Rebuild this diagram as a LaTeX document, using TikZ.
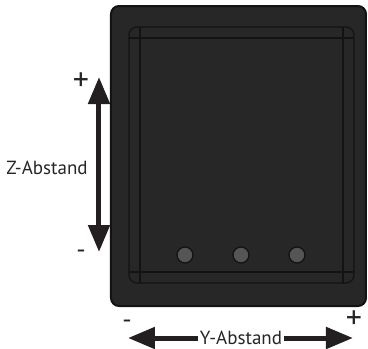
\documentclass[tikz,border=0pt]{standalone}
\usepackage{fontspec}
\setmainfont{PT Sans}
\usetikzlibrary{arrows.meta}
\definecolor{casing}{HTML}{272727}
\definecolor{casingline}{HTML}{131313}
\definecolor{screw}{HTML}{555555}
\definecolor{pointer}{HTML}{231F20}
\tikzstyle{axislabel} = [font=\fontsize{19}{19}\selectfont, text=black!85, inner sep=1.5pt]
\tikzstyle{sign} = [font=\fontsize{32}{32}\selectfont, text=black!85, inner sep=0pt]
\tikzstyle{minussign} = [font=\fontsize{26}{26}\selectfont, text=black!85, inner sep=0pt]
\tikzstyle{pointerline} = [draw=pointer, line width=5pt, -{Triangle[length=27pt,width=21pt]}]
\tikzstyle{screwhole} = [circle, draw=casingline, line width=1.3pt, fill=screw, minimum size=16pt, inner sep=0pt]

\begin{document}
\begin{tikzpicture}[x=1pt, y=-1pt]
	\useasboundingbox (0,0) rectangle (368,349);
	% casing
	\draw[casingline, line width=2pt, fill=casing, rounded corners=8pt] (111,6) rectangle (366,306);
	\draw[casingline, line width=1.2pt, rounded corners=8pt] (129,27) rectangle (354,283);
	\draw[casingline, line width=1.2pt] (129,38) -- (354,38);
	\draw[casingline, line width=1.2pt] (129,272) -- (354,272);
	\draw[casingline, line width=1.2pt] (140,27) -- (140,283);
	\draw[casingline, line width=1.2pt] (343,27) -- (343,283);
	% screws
	\foreach \name/\x in {screwa/185, screwb/241, screwc/297}
		\node[screwhole] (\name) at (\x,255) {};
	% Z axis
	\node[axislabel] (zlabel) at (47,168) {Z-Abstand};
	\coordinate (ztop) at (99,77);
	\coordinate (zbottom) at (99,252);
	\coordinate (zmid) at (99,165);
	\draw[pointerline] (zmid) -- (ztop);
	\draw[pointerline] (zmid) -- (zbottom);
	\node[sign] (zplus) at (81,82) {+};
	\node[minussign] (zminus) at (81,254) {-};
	% Y axis
	\node[axislabel] (ylabel) at (241,338) {Y-Abstand};
	\coordinate (yleft) at (128,338);
	\coordinate (yright) at (353,338);
	\draw[pointerline] (ylabel) -- (yleft);
	\draw[pointerline] (ylabel) -- (yright);
	\node[minussign] (yminus) at (127,324) {-};
	\node[sign] (yplus) at (354,320) {+};
\end{tikzpicture}
\end{document}
